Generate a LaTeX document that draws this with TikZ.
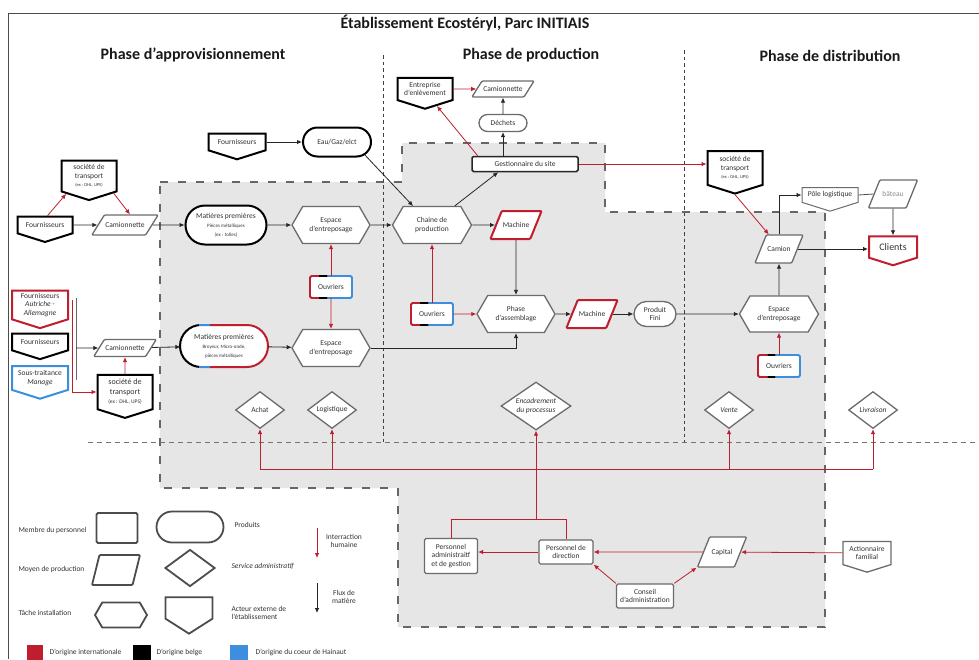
\documentclass[tikz,border=0pt]{standalone}
\usepackage{fontspec}
\setmainfont{Carlito}
\usetikzlibrary{arrows.meta,calc,positioning,shapes.geometric,shapes.misc,shapes.symbols}

\definecolor{cred}{HTML}{BE1E2D}
\definecolor{cblue}{HTML}{3E8EDE}
\definecolor{cgray}{HTML}{6B6B6B}
\definecolor{cfill}{HTML}{E6E6E6}
\definecolor{ctext}{HTML}{333333}

\newcommand{\petit}{\fontsize{5}{6}\selectfont}

\tikzset{
  base/.style={font=\fontsize{7.5}{8.5}\selectfont, text=ctext, align=center, inner sep=1pt, line width=1.3pt, draw=cgray, fill=white},
  membre/.style={base, rectangle, rounded corners=1.5pt},
  produit/.style={base, rounded rectangle},
  moyen/.style={base, trapezium, trapezium left angle=68, trapezium right angle=112, trapezium stretches body,
    text height=5.5pt, text depth=1.5pt, inner ysep=#1, rounded corners=1pt},
  moyen/.default=10.5pt,
  service/.style={base, diamond, aspect=1.4},
  tache/.style={base, signal, signal to=east and west, signal pointer angle=120},
  acteur/.style={base, signal, signal to=south, signal pointer angle=145},
  belge/.style={draw=black, line width=2pt},
  inter/.style={draw=cred, line width=2pt},
  hainaut/.style={draw=cblue, line width=2pt},
  flux/.style={draw=black!85, line width=0.8pt, -{Latex[length=5pt,width=4.5pt]}},
  humain/.style={draw=cred, line width=0.8pt, -{Latex[length=5pt,width=4.5pt]}},
  rline/.style={draw=cred, line width=0.8pt},
  legende/.style={draw=black!70, line width=1.8pt},
  phase/.style={font=\bfseries\fontsize{16}{18}\selectfont, text=black!90},
  sep/.style={draw=black!75, line width=0.9pt, dash pattern=on 3.5pt off 3pt},
  zone/.style={fill=cfill, draw=black!60, line width=1.3pt, dash pattern=on 8pt off 10pt},
  lbl/.style={font=\fontsize{7.5}{8.5}\selectfont, text=ctext, align=left, anchor=west},
}

% bord tricolore des ouvriers
\newcommand{\ouvrierbord}[1]{%
  \begin{scope}
    \clip ($(#1.north west)+(-4,-4)$) rectangle ($(#1.south west)!0.22!(#1.south east)+(0,4)$);
    \draw[cred, line width=1.8pt, rounded corners=1.5pt] (#1.north west) rectangle (#1.south east);
  \end{scope}
  \begin{scope}
    \clip ($(#1.north west)!0.22!(#1.north east)+(0,-4)$) rectangle ($(#1.south west)!0.42!(#1.south east)+(0,4)$);
    \draw[black, line width=1.8pt, rounded corners=1.5pt] (#1.north west) rectangle (#1.south east);
  \end{scope}
  \begin{scope}
    \clip ($(#1.north west)!0.42!(#1.north east)+(0,-4)$) rectangle ($(#1.south east)+(4,4)$);
    \draw[cblue, line width=1.8pt, rounded corners=1.5pt] (#1.north west) rectangle (#1.south east);
  \end{scope}}

\begin{document}
\begin{tikzpicture}[x=1pt,y=-1pt]
\useasboundingbox (0,0) rectangle (979,659);

% Zone grise
\draw[zone] (160,182) -- (402,182) -- (402,143) -- (605,143) -- (605,212) -- (825,212)
  -- (825,627) -- (398,627) -- (398,488) -- (160,488) -- cycle;

% Separations des phases
\draw[sep] (383,55) -- (383,442);
\draw[sep] (684,50) -- (684,442);
\draw[draw=black!55, line width=1pt, dash pattern=on 5pt off 4pt] (88,442) -- (979,442);

% Cadre
\draw[black!70, line width=0.8pt] (8,659) -- (8,13) -- (979,13);

% Titres
\node[font=\bfseries\fontsize{16}{18}\selectfont, text=black!90] (titre) at (465,23) {Établissement Ecostéryl, Parc INITIAIS};
\node[phase] (pappro) at (193,55) {Phase d’approvisionnement};
\node[phase] (pprod) at (531,55) {Phase de production};
\node[phase] (pdist) at (830,56) {Phase de distribution};

% Approvisionnement
\node[acteur, belge, minimum width=57pt, minimum height=23pt] (fourn1) at (237,142) {Fournisseurs};
\node[produit, belge, minimum width=70pt, minimum height=29pt] (eau) at (337,142) {Eau/Gaz/elct};
\node[acteur, belge, minimum width=55pt, minimum height=36pt] (trans1) at (89,176) {société de\\transport\\{\fontsize{4.5}{5}\selectfont (ex : DHL, UPS)}};
\node[acteur, belge, minimum width=55pt, minimum height=23pt] (fourn2) at (45,225) {Fournisseurs};
\node[moyen=6.5pt, trapezium left angle=58, trapezium right angle=122, minimum width=55pt] (cam1) at (125,225) {Camionnette};
\node[produit, belge, minimum width=83pt, minimum height=39pt] (mp1) at (226,225) {Matières premières\\[1pt]{\petit Pièces métalliques}\\{\petit (ex : tolles)}};
\node[tache, minimum width=78pt, minimum height=37pt] (esp1) at (331,225) {Espace\\d’entreposage};
\node[membre, draw=none, outer sep=0pt, minimum width=42pt, minimum height=22pt] (ouv1) at (331,287) {Ouvriers};
\node[tache, minimum width=78pt, minimum height=37pt] (esp2) at (331,348) {Espace\\d’entreposage};
\node[produit, draw=none, minimum width=88pt, minimum height=42pt] (mp2) at (224,346) {Matières premières\\[1pt]{\petit Broyeur, Micro-onde,}\\{\petit pièces métalliques}};
\node[moyen=5pt, trapezium left angle=58, trapezium right angle=122, minimum width=58pt] (cam2) at (125,348) {Camionnette};
\node[acteur, inter, minimum width=56pt, minimum height=35pt] (fournA) at (40,305) {Fournisseurs\\\textit{Autriche -}\\\textit{Allemagne}};
\node[acteur, belge, minimum width=56pt, minimum height=23pt] (fourn3) at (40,342) {Fournisseurs};
\node[acteur, hainaut, minimum width=56pt, minimum height=31pt] (sous) at (40,378) {Sous-traitance\\\textit{Manage}};
\node[acteur, belge, font=\fontsize{8}{9.5}\selectfont, minimum width=55pt, minimum height=40pt] (trans3) at (125,392) {société de\\transport\\{\fontsize{5.5}{6}\selectfont (ex : DHL, UPS)}};

% Production
\node[tache, minimum width=79pt, minimum height=37pt] (chaine) at (432,225) {Chaine de\\production};
\node[moyen, inter, minimum width=48pt] (mach1) at (516,225) {Machine};
\node[membre, draw=black!85, line width=1.5pt, minimum width=106pt, minimum height=15pt] (gest) at (525,164) {Gestionnaire du site};
\node[produit, minimum width=50pt, minimum height=17pt] (dechets) at (503,123) {Déchets};
\node[moyen=4.5pt, trapezium left angle=58, trapezium right angle=122, minimum width=62pt] (camtop) at (503,89) {Camionnette};
\node[acteur, belge, minimum width=55pt, minimum height=29pt] (enlev) at (425,89) {Entreprise\\d’enlèvement};
\node[membre, draw=none, outer sep=0pt, minimum width=42pt, minimum height=22pt] (ouv2) at (432,314) {Ouvriers};
\node[tache, minimum width=78pt, minimum height=37pt] (phase) at (516,314) {Phase\\d’assemblage};
\node[moyen, inter, minimum width=48pt] (mach2) at (592,314) {Machine};
\node[produit, minimum width=44pt, minimum height=25pt] (pfini) at (655,314) {Produit\\Fini};

% Distribution
\node[acteur, belge, minimum width=55pt, minimum height=39pt] (trans2) at (735,168) {société de\\transport\\{\fontsize{4.5}{5}\selectfont (ex : DHL, UPS)}};
\node[moyen, minimum width=48pt] (camion) at (779,249) {Camion};
\node[acteur, line width=1pt, minimum width=56pt, minimum height=22pt] (pole) at (830,195) {Pôle logistique};
\node[moyen, text=black!45, minimum width=49pt] (bateau) at (893,194) {bâteau};
\node[acteur, inter, font=\fontsize{10}{12}\selectfont, minimum width=48pt, minimum height=26pt] (clients) at (893,247) {Clients};
\node[tache, minimum width=79pt, minimum height=36pt] (esp3) at (779,314) {Espace\\d’entreposage};
\node[membre, draw=none, outer sep=0pt, minimum width=42pt, minimum height=22pt] (ouv3) at (779,366) {Ouvriers};

% Services administratifs
\node[service, minimum width=49pt, minimum height=37pt] (achat) at (260,410) {Achat};
\node[service, minimum width=49pt, minimum height=37pt] (logist) at (332,410) {Logistique};
\node[service, minimum width=70pt, minimum height=48pt] (encad) at (536,406) {\textit{Encadrement}\\\textit{du processus}};
\node[service, minimum width=49pt, minimum height=37pt] (vente) at (729,410) {\textit{Vente}};
\node[service, minimum width=49pt, minimum height=37pt] (livr) at (873,410) {\textit{Livraison}};

% Direction
\node[membre, minimum width=53pt, minimum height=35pt] (padmin) at (451,556) {Personnel\\administraitf\\et de gestion};
\node[membre, minimum width=54pt, minimum height=24pt] (pdir) at (566,552) {Personnel de\\direction};
\node[membre, minimum width=57pt, minimum height=24pt] (conseil) at (645,596) {Conseil\\d’administration};
\node[moyen=11.5pt, minimum width=49pt] (capital) at (722,552) {Capital};
\node[acteur, minimum width=48pt, minimum height=29pt] (action) at (867,553) {Actionnaire\\familial};

% Bords tricolores
\ouvrierbord{ouv1}
\ouvrierbord{ouv2}
\ouvrierbord{ouv3}
\begin{scope}
  \clip (170,315) rectangle (199,377);
  \draw[black, line width=2pt, rounded corners=21pt] (180,325) rectangle (268,367);
\end{scope}
\begin{scope}
  \clip (199,315) rectangle (210,377);
  \draw[cblue, line width=2pt, rounded corners=21pt] (180,325) rectangle (268,367);
\end{scope}
\begin{scope}
  \clip (210,315) rectangle (278,377);
  \draw[cred, line width=2pt, rounded corners=21pt] (180,325) rectangle (268,367);
\end{scope}

% Flux de matiere
\draw[flux] (fourn1.east) -- (fourn1.east -| eau.west);
\draw[flux] (eau.-25) -- (chaine.135);
\draw[flux] (fourn2) -- (cam1);
\draw[flux] (cam1) -- (mp1);
\draw[flux] (mp1) -- (esp1);
\draw[flux] (esp1) -- (chaine);
\draw[flux] (chaine) -- (mach1);
\draw[flux] (chaine.40) -- ($(gest.south west)!0.25!(gest.south east)$);
\draw[flux] (dechets.south |- gest.north) -- (dechets.south);
\draw[flux] (dechets.north) -- (camtop.south);
\draw[flux] (cam2) -- (mp2);
\draw[flux] (mp2) -- (esp2);
\draw[flux] (esp2.east) -| (phase.south);
\draw[flux] (mach1) -- (phase);
\draw[flux] (phase) -- (mach2);
\draw[flux] (mach2) -- (pfini);
\draw[flux] (pfini) -- (esp3);
\draw[flux] (esp3) -- (camion);
\draw[flux] (camion.north) |- (pole.west);
\draw[black!70, line width=0.8pt] (pole.east) -- (bateau.west);
\draw[flux] (bateau.south) -- (clients.north);
\draw[flux] (camion.east) -- (camion.east -| clients.west);
\coordinate (accA) at (76,298);
\coordinate (accB) at (76,380);
\draw[black!60, line width=0.8pt] (accA) -- (accB);
\draw[flux] (accA |- cam2) -- (cam2);

% Interactions humaines
\draw[humain] (fourn2.75) -- (trans1.-142);
\draw[humain] (trans1.-35) -- (cam1.65);
\coordinate (lienA) at (72,300);
\draw[humain] (lienA) |- (trans3.west);
\draw[humain] (trans3.north) -- (cam2.south);
\draw[humain] (ouv1) -- (esp1);
\draw[humain] (ouv1) -- (esp2);
\draw[humain] (ouv2) -- (chaine);
\draw[humain] (ouv2) -- (phase);
\draw[humain] (ouv3) -- (esp3);
\draw[humain] ($(gest.north west)!0.06!(gest.north east)$) -- (enlev.-55);
\draw[humain] (enlev.east) -- (camtop.west);
\draw[humain] (gest.east) -- (gest.east -| trans2.west);
\draw[humain] (trans2.south) -- (camion.125);

% Liens administratifs
\coordinate (bus) at (0,469);
\coordinate (fourche) at (536,519);
\draw[rline] (achat |- bus) -- (livr |- bus);
\foreach \s in {achat,logist,encad,vente,livr}
  \draw[humain] (\s |- bus) -- (\s.south);
\draw[rline] (encad |- bus) -- (fourche);
\draw[rline] (padmin.north) |- (fourche) -| (pdir.north);
\draw[humain] (pdir.west) -- (pdir.west -| padmin.east);
\draw[humain] (capital) -- (pdir);
\draw[humain] (action) -- (capital);
\draw[humain] (conseil.north west) -- (pdir.south east);
\draw[humain] (conseil.north east) -- (capital.bottom left corner);

% Legende
\node[membre, legende, minimum width=41pt, minimum height=30pt] (lmembre) at (117,528) {};
\node[produit, legende, minimum width=69pt, minimum height=31pt] (lprod) at (190,527) {};
\node[moyen=11.5pt, legende, trapezium left angle=76, trapezium right angle=104, minimum width=48pt] (lmoyen) at (116,570) {};
\node[service, legende, minimum width=50pt, minimum height=37pt] (lserv) at (190,568) {};
\node[tache, legende, minimum width=52pt, minimum height=25pt] (ltache) at (121,615) {};
\node[acteur, legende, signal pointer angle=115, minimum width=47pt, minimum height=22pt] (lacteur) at (189,608) {};
\node[lbl] (tmembre) at (15,530) {Membre du personnel};
\node[lbl] (tprod) at (231,525) {Produits};
\node[lbl] (tmoyen) at (15,569) {Moyen de production};
\node[lbl] (tserv) at (228,566) {\textit{Service administratif}};
\node[lbl] (ttache) at (15,613) {Tâche installation};
\node[lbl] (tacteur) at (228,613) {Acteur externe de\\l’établissement};
\coordinate (lh1) at (317,528);
\coordinate (lh2) at (317,558);
\draw[humain] (lh1) -- (lh2);
\coordinate (lf1) at (317,583);
\coordinate (lf2) at (317,613);
\draw[flux] (lf1) -- (lf2);
\node[lbl, align=center, anchor=center] (thum) at (344,541) {Interraction\\humaine};
\node[lbl, align=center, anchor=center] (tflux) at (344,597) {Flux de\\matière};
\fill[cred] (27,645) rectangle (43,661);
\fill[black] (133,645) rectangle (151,661);
\fill[cblue] (230,645) rectangle (248,661);
\node[lbl] (tinter) at (46,652) {D’origine internationale};
\node[lbl] (tbelge) at (153,652) {D’origine belge};
\node[lbl] (thain) at (252,652) {D’origine du coeur de Hainaut};

\end{tikzpicture}
\end{document}
